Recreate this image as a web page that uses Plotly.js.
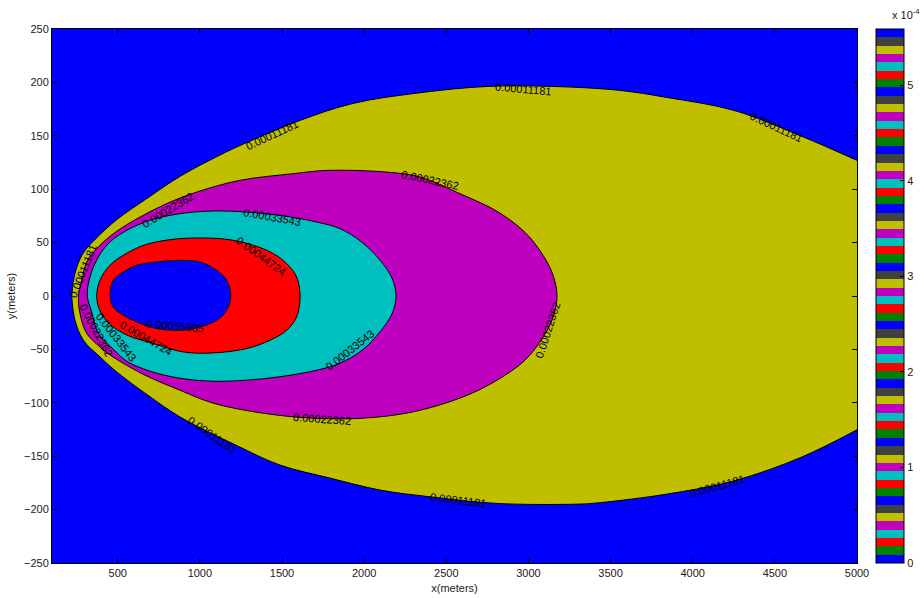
<!DOCTYPE html>
<html><head><meta charset="utf-8">
<script src="https://cdn.plot.ly/plotly-3.0.1.min.js"></script>
<style>body{margin:0;background:#fff}#chart{width:924px;height:598px}</style>
</head><body><div id="chart"></div>
<script>
// contour levels (concentration)
const levels = [0.00011181, 0.00022362, 0.00033543, 0.00044724, 0.00055905];
const cMax = 0.00055905;

// level 1 boundary (0.00011181), open at the right edge: upper and lower branches
const c1UpperX = [220, 240, 289, 392, 494, 684, 879, 1123, 1275, 1610, 1932, 2340, 2748, 3150, 3557, 3843, 4251, 4659, 5000];
const c1UpperY = [0, 21.3, 40, 57.5, 71.5, 92, 112, 132, 143, 164.4, 180.3, 190.3, 196.2, 196.2, 192.5, 185.9, 173.8, 149.8, 127];
const c1LowerX = [220, 240, 291, 392, 494, 684, 879, 1224, 1488, 1792, 2097, 2401, 2807, 3314, 3436, 3843, 4251, 4662, 5000];
const c1LowerY = [0, -22.7, -41.4, -57, -71.1, -92.9, -113.2, -140, -158.3, -170.5, -181.7, -188, -194.2, -194.8, -193.5, -185.5, -173.1, -150.9, -125.3];

// level 2 boundary (0.00022362)
const c2x = [261, 281, 316, 392, 494, 636, 798, 981, 1244, 1567, 1774, 2139, 2340, 2602, 2809, 2979, 3089, 3150, 3174,
             3150, 3089, 2979, 2809, 2602, 2297, 1993, 1689, 1384, 1080, 879, 666, 471, 392, 311, 270, 261];
const c2y = [0, 14.7, 33.4, 47.5, 60.6, 73.9, 86.5, 97.3, 108.3, 114.5, 117.6, 116, 111.4, 94.5, 79.3, 59.6, 38.1, 19.4, 0,
             -19.9, -38.6, -60.1, -78.8, -94.5, -108.5, -114.4, -114.4, -109.7, -100.3, -88.2, -74.1, -57, -47.7, -34.9, -16.2, 0];

// level 3 boundary (0.00033543)
const c3x = [315, 331, 382, 453, 555, 697, 879, 1080, 1285, 1488, 1711, 1853, 1987, 2097, 2170, 2194,
             2170, 2097, 1987, 1853, 1711, 1488, 1285, 1080, 879, 697, 555, 473, 382, 342, 315];
const c3y = [0, 17.8, 36.5, 50.6, 61.5, 70.9, 77.1, 79.6, 78.6, 75.5, 69.3, 63.1, 50.3, 33.4, 16.6, 0,
             -16.6, -33.4, -50.8, -62.9, -69.5, -75.6, -78.8, -79.8, -77, -70.4, -61.1, -49.8, -35, -15.2, 0];

// level 4 boundary (0.00044724)
const c4x = [372, 392, 453, 555, 676, 838, 981, 1163, 1325, 1447, 1529, 1589, 1610,
             1589, 1529, 1427, 1285, 1082, 899, 717, 555, 453, 392, 372];
const c4y = [0, 14.7, 28.8, 40, 48.4, 53.1, 54.3, 53.1, 47.5, 39.7, 30.3, 17.8, 0,
             -19.6, -32.1, -41.4, -49.2, -53.3, -52.4, -44.5, -36.5, -26.5, -14, 0];

// level 5 boundary (0.00055905)
const c5x = [453, 473, 534, 616, 737, 879, 1001, 1103, 1163, 1188, 1163, 1103, 1001, 879, 737, 616, 534, 473, 453];
const c5y = [0, 14.7, 22.5, 28.8, 31.8, 33.4, 31.8, 24, 14.7, 0, -13.3, -22.7, -29, -32.1, -30.5, -24.3, -18, -10.3, 0];

// contour label positions
const labelLevel = [0, 0, 0, 0, 0, 0, 0, 1, 1, 1, 1, 1, 2, 2, 2, 3, 3, 4];
const labelX = [2967, 1439, 4507, 289, 1074, 2571, 4148, 806, 2401, 3119, 1743, 368, 1439, 1914, 490, 1372, 672, 849];
const labelY = [193.4, 150.4, 157.9, 23.1, -130.3, -191.1, -178, 80.2, 108.3, -32.1, -115.3, -32.1, 73.7, -50.8, -38.6, 37.2, -39.5, -28.3];
const labelAngle = [5, -25, 25, -68, 35, 7, -16, -31, 12, -72, 4, 62, 10, -38, 52, 36, 30, 5];

const xTicks = [500, 1000, 1500, 2000, 2500, 3000, 3500, 4000, 4500, 5000];
const yTicks = [-250, -200, -150, -100, -50, 0, 50, 100, 150, 200, 250];
const cbTickVals = [0, 0.0001, 0.0002, 0.0003, 0.0004, 0.0005];
const cbTickText = ['0', '1', '2', '3', '4', '5'];

// MATLAB "lines" colormap, 64 entries
const cycle = ['#0000FF', '#008000', '#FF0000', '#00BFBF', '#BF00BF', '#BFBF00', '#404040'];
const nMap = 64;
const cmap = [];
for (let i = 0; i < nMap; i++) cmap.push(cycle[i % cycle.length]);
const colorscale = [];
for (let i = 0; i < nMap; i++) {
  colorscale.push([i / nMap, cmap[i]]);
  colorscale.push([(i + 1) / nMap, cmap[i]]);
}
function levelColor(v) {
  let idx = Math.floor(v / cMax * nMap);
  if (idx > nMap - 1) idx = nMap - 1;
  return cmap[idx];
}

const lineStyle = {color: '#000', width: 1, shape: 'spline', smoothing: 1};
const traces = [];
traces.push({type: 'scatter', mode: 'lines', x: c1UpperX, y: c1UpperY, line: lineStyle, hoverinfo: 'skip', showlegend: false});
traces.push({type: 'scatter', mode: 'lines', x: c1LowerX, y: c1LowerY, line: lineStyle, fill: 'tonexty',
             fillcolor: levelColor(levels[0]), hoverinfo: 'skip', showlegend: false});
const cx = [c2x, c3x, c4x, c5x];
const cy = [c2y, c3y, c4y, c5y];
for (let i = 0; i < cx.length; i++) {
  traces.push({
    type: 'scatter', mode: 'lines', x: cx[i], y: cy[i], fill: 'toself',
    fillcolor: levelColor(levels[i + 1]), line: lineStyle,
    hoverinfo: 'skip', showlegend: false
  });
}

const paperW = 924 - 52;
traces.push({
  type: 'scatter', mode: 'markers', x: [null], y: [null], showlegend: false, hoverinfo: 'skip',
  marker: {
    color: [0], cmin: 0, cmax: cMax, colorscale: colorscale, showscale: true,
    colorbar: {
      x: (876 - 52) / paperW, xanchor: 'left', y: 0.5, yanchor: 'middle',
      len: 1, lenmode: 'fraction', thickness: 28, thicknessmode: 'pixels',
      xpad: 0, ypad: 0, outlinewidth: 1, outlinecolor: '#000',
      ticks: 'inside', ticklen: 4, tickcolor: '#000',
      tickvals: cbTickVals, ticktext: cbTickText,
      tickfont: {family: 'Liberation Sans, Arial, sans-serif', size: 11, color: '#1a1a1a'}
    }
  }
});

const annotations = [];
for (let k = 0; k < labelX.length; k++) {
  annotations.push({
    x: labelX[k], y: labelY[k], xref: 'x', yref: 'y', showarrow: false,
    text: levels[labelLevel[k]].toFixed(8), textangle: labelAngle[k],
    font: {family: 'Liberation Sans, Arial, sans-serif', size: 11, color: '#000'}
  });
}
annotations.push({
  xref: 'paper', yref: 'paper', x: (922 - 52) / paperW, y: (563 - 14) / 534,
  xanchor: 'right', yanchor: 'middle', showarrow: false,
  text: 'x 10<sup>-4</sup>', font: {family: 'Liberation Sans, Arial, sans-serif', size: 11, color: '#1a1a1a'}
});

const axisFont = {family: 'Liberation Sans, Arial, sans-serif', size: 11, color: '#1a1a1a'};
const layout = {
  width: 924, height: 598,
  margin: {l: 52, r: 0, t: 29, b: 35, pad: 0},
  paper_bgcolor: '#fff', plot_bgcolor: '#0000FF',
  font: axisFont,
  xaxis: {
    domain: [0, (857 - 52) / paperW],
    range: [100, 5000], tickvals: xTicks, ticks: 'inside', ticklen: 5, tickcolor: '#000',
    showline: true, linecolor: '#000', linewidth: 1, mirror: 'ticks', showgrid: false, zeroline: false,
    tickfont: axisFont, automargin: false,
    title: {text: 'x(meters)', font: axisFont, standoff: 6}
  },
  yaxis: {
    range: [-250, 250], tickvals: yTicks, ticks: 'inside', ticklen: 5, tickcolor: '#000',
    showline: true, linecolor: '#000', linewidth: 1, mirror: 'ticks', showgrid: false, zeroline: false,
    tickfont: axisFont, automargin: false,
    title: {text: 'y(meters)', font: axisFont, standoff: 6}
  },
  annotations: annotations
};
Plotly.newPlot('chart', traces, layout, {displayModeBar: false, staticPlot: true});
</script>
</body></html>
